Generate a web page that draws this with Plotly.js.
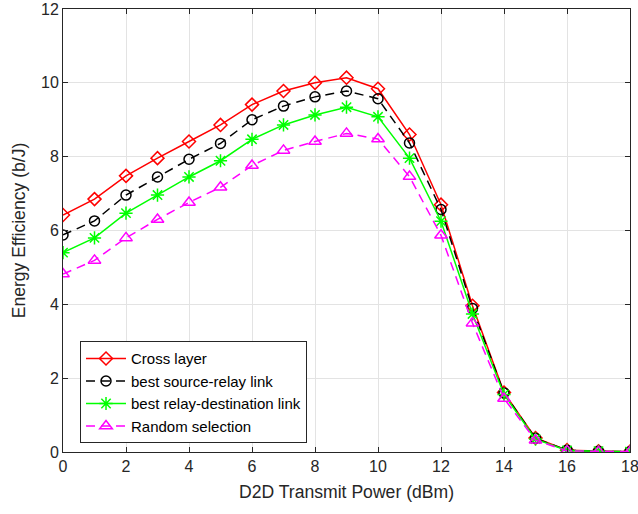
<!DOCTYPE html>
<html><head><meta charset="utf-8">
<script src="https://cdn.plot.ly/plotly-3.0.1.min.js"></script>
<style>body{margin:0;background:#fff}#chart{width:638px;height:514px}</style>
</head><body><div id="chart"></div>
<script>
const power = [0,1,2,3,4,5,6,7,8,9,10,11,12,13,14,15,16,17,18];
const crossLayer = [6.42,6.85,7.48,7.96,8.41,8.86,9.41,9.78,10.0,10.14,9.84,8.6,6.7,3.96,1.61,0.38,0.05,0.02,0.01];
const bestSourceRelay = [5.88,6.26,6.96,7.45,7.93,8.36,9.0,9.37,9.62,9.78,9.57,8.37,6.57,3.89,1.6,0.37,0.05,0.02,0.01];
const bestRelayDest = [5.4,5.8,6.47,6.96,7.45,7.89,8.47,8.86,9.13,9.34,9.08,7.96,6.25,3.74,1.56,0.35,0.04,0.02,0.01];
const randomSel = [4.82,5.19,5.8,6.3,6.76,7.17,7.76,8.17,8.41,8.63,8.48,7.46,5.87,3.49,1.45,0.32,0.03,0.01,0.01];
const names = ['Cross layer','best source-relay link','best relay-destination link','Random selection'];
const xTicks = [0,2,4,6,8,10,12,14,16,18];
const yTicks = [0,2,4,6,8,10,12];

const FONT = 'Liberation Sans, Arial, Helvetica, sans-serif';

const traces = [
  {x: power, y: crossLayer, name: names[0], mode: 'lines+markers',
   line: {color: '#ff0000', width: 1.5},
   marker: {symbol: 'diamond-open', size: 10, color: '#ff0000', line: {width: 1.5}}},
  {x: power, y: bestSourceRelay, name: names[1], mode: 'lines+markers',
   line: {color: '#000000', width: 1.5, dash: '9px,6px'},
   marker: {symbol: 'circle-open', size: 10, color: '#000000', line: {width: 1.5}}},
  {x: power, y: bestRelayDest, name: names[2], mode: 'lines+markers',
   line: {color: '#00ff00', width: 1.5},
   marker: {symbol: 'asterisk-open', size: 11, color: '#00ff00', line: {width: 1.5, color: '#00ff00'}}},
  {x: power, y: randomSel, name: names[3], mode: 'lines+markers',
   line: {color: '#ff00ff', width: 1.5, dash: '9px,6px'},
   marker: {symbol: 'triangle-up-open', size: 11, color: '#ff00ff', line: {width: 1.5}}}
];

const axisCommon = {
  showline: true, mirror: 'ticks', linecolor: '#262626', linewidth: 1,
  ticks: 'inside', ticklen: 5, tickcolor: '#262626',
  showgrid: true, gridcolor: '#e3e3e3', gridwidth: 1, zeroline: false,
  ticklabeloverflow: 'allow',
  tickfont: {family: FONT, size: 16, color: '#262626'}
};

const layout = {
  width: 638, height: 514,
  margin: {l: 63, r: 8, t: 9, b: 62},
  paper_bgcolor: '#ffffff', plot_bgcolor: '#ffffff',
  font: {family: FONT, color: '#262626'},
  xaxis: Object.assign({}, axisCommon, {
    range: [0, 18], tickvals: xTicks,
    title: {text: 'D2D Transmit Power (dBm)', font: {family: FONT, size: 17.6, color: '#262626'}, standoff: 11}
  }),
  yaxis: Object.assign({}, axisCommon, {
    range: [0, 12], tickvals: yTicks,
    title: {text: 'Energy Efficiency (b/J)', font: {family: FONT, size: 17.6, color: '#262626'}, standoff: 10}
  }),
  showlegend: true,
  legend: {
    x: 0.03, y: 0.25, xanchor: 'left', yanchor: 'top',
    bgcolor: '#ffffff', bordercolor: '#262626', borderwidth: 1,
    font: {family: FONT, size: 15, color: '#000000'},
    tracegroupgap: 0, itemwidth: 40
  }
};

Plotly.newPlot('chart', traces, layout, {displayModeBar: false, staticPlot: true});
</script>
</body></html>
